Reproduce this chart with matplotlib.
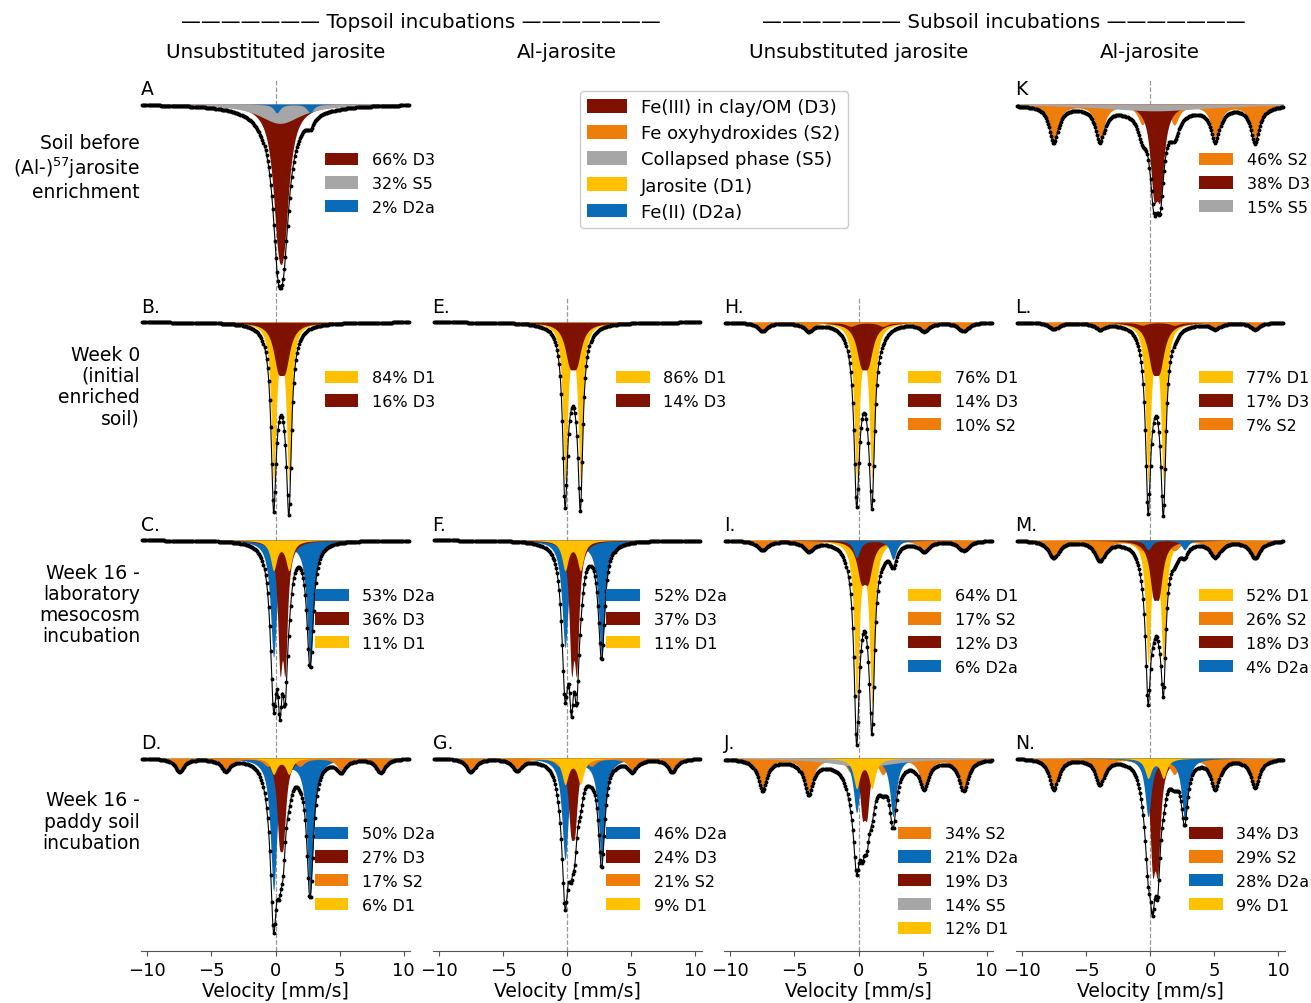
import numpy as np
import matplotlib
matplotlib.use('Agg')
import matplotlib.pyplot as plt
from matplotlib.patches import Patch

# phase colours and legend names
colors = {'D3': '#7f1100', 'S2': '#ee7d0a', 'S5': '#a6a6a6',
          'D1': '#ffc000', 'D2a': '#0a6cb8'}
phase_names = ['Fe(III) in clay/OM (D3)', 'Fe oxyhydroxides (S2)',
               'Collapsed phase (S5)', 'Jarosite (D1)', 'Fe(II) (D2a)']
phase_keys = ['D3', 'S2', 'S5', 'D1', 'D2a']

# line positions [mm/s]
D1_lines = [-0.15, 1.05]
D2a_lines = [-0.15, 2.7]
S2_lines = [-7.5, -3.9, -0.6, 1.9, 5.1, 8.2]

# each panel: (phase, % area, line centres, HWHM, line depths)
spec_A = [('D3', 66, [0.2, 0.65], 0.5, [0.5, 0.5]),
          ('S5', 32, [0.35], 2.0, [0.1]),
          ('D2a', 2, [0.1, 2.7], 0.3, [0.045, 0.045])]
spec_B = [('D1', 84, D1_lines, 0.23, [0.8, 0.8]),
          ('D3', 16, [0.2, 0.75], 0.45, [0.19, 0.19])]
spec_C = [('D2a', 53, D2a_lines, 0.3, [0.6, 0.64]),
          ('D3', 36, [0.35, 0.75], 0.22, [0.57, 0.57]),
          ('D1', 11, D1_lines, 0.3, [0.15, 0.15])]
spec_D = [('D2a', 50, D2a_lines, 0.3, [0.68, 0.7]),
          ('D3', 27, [0.3, 0.6], 0.25, [0.33, 0.33]),
          ('S2', 17, S2_lines, 0.42, [0.07, 0.06, 0.04, 0.04, 0.06, 0.07]),
          ('D1', 6, D1_lines, 0.3, [0.08, 0.08])]
spec_E = [('D1', 86, D1_lines, 0.22, [0.8, 0.8]),
          ('D3', 14, [0.2, 0.75], 0.45, [0.17, 0.17])]
spec_F = [('D2a', 52, D2a_lines, 0.3, [0.55, 0.6]),
          ('D3', 37, [0.35, 0.75], 0.22, [0.57, 0.57]),
          ('D1', 11, D1_lines, 0.3, [0.15, 0.15])]
spec_G = [('D2a', 46, D2a_lines, 0.3, [0.52, 0.54]),
          ('D3', 24, [0.3, 0.6], 0.25, [0.29, 0.29]),
          ('S2', 21, S2_lines, 0.42, [0.07, 0.06, 0.04, 0.04, 0.06, 0.07]),
          ('D1', 9, D1_lines, 0.3, [0.13, 0.13])]
spec_H = [('D1', 76, D1_lines, 0.24, [0.78, 0.78]),
          ('D3', 14, [0.2, 0.75], 0.45, [0.17, 0.17]),
          ('S2', 10, S2_lines, 0.45, [0.045, 0.04, 0.02, 0.02, 0.04, 0.045])]
spec_I = [('D1', 64, D1_lines, 0.23, [0.8, 0.82]),
          ('S2', 17, S2_lines, 0.5, [0.05, 0.05, 0.03, 0.03, 0.05, 0.05]),
          ('D3', 12, [0.2, 0.75], 0.4, [0.17, 0.17]),
          ('D2a', 6, D2a_lines, 0.3, [0.09, 0.1])]
spec_J = [('S2', 34, S2_lines, 0.42, [0.16, 0.17, 0.07, 0.08, 0.14, 0.16]),
          ('D2a', 21, D2a_lines, 0.3, [0.28, 0.3]),
          ('D3', 19, [0.3, 0.65], 0.25, [0.24, 0.24]),
          ('S5', 14, [0.4], 3.0, [0.045]),
          ('D1', 12, D1_lines, 0.3, [0.15, 0.15])]
spec_K = [('S2', 46, S2_lines, 0.42, [0.19, 0.17, 0.1, 0.1, 0.17, 0.19]),
          ('D3', 38, [0.3, 0.8], 0.35, [0.38, 0.38]),
          ('S5', 15, [0.4], 5.0, [0.035])]
spec_L = [('D1', 77, D1_lines, 0.23, [0.8, 0.8]),
          ('D3', 17, [0.2, 0.75], 0.45, [0.19, 0.19]),
          ('S2', 7, S2_lines, 0.45, [0.035, 0.03, 0.015, 0.015, 0.03, 0.035])]
spec_M = [('D1', 52, D1_lines, 0.23, [0.62, 0.62]),
          ('S2', 26, S2_lines, 0.5, [0.09, 0.1, 0.05, 0.05, 0.08, 0.09]),
          ('D3', 18, [0.25, 0.7], 0.35, [0.22, 0.22]),
          ('D2a', 4, D2a_lines, 0.3, [0.05, 0.05])]
spec_N = [('D3', 34, [0.2, 0.6], 0.25, [0.48, 0.48]),
          ('S2', 29, S2_lines, 0.42, [0.16, 0.13, 0.06, 0.08, 0.15, 0.15]),
          ('D2a', 28, D2a_lines, 0.3, [0.3, 0.31]),
          ('D1', 9, D1_lines, 0.3, [0.1, 0.1])]

# panel letter -> (row, col, spectrum)
panels = {'A': (0, 0, spec_A), 'B.': (1, 0, spec_B), 'C.': (2, 0, spec_C),
          'D.': (3, 0, spec_D), 'E.': (1, 1, spec_E), 'F.': (2, 1, spec_F),
          'G.': (3, 1, spec_G), 'H.': (1, 2, spec_H), 'I.': (2, 2, spec_I),
          'J.': (3, 2, spec_J), 'K': (0, 3, spec_K), 'L.': (1, 3, spec_L),
          'M.': (2, 3, spec_M), 'N.': (3, 3, spec_N)}

row_labels = ['Soil before\n(Al-)$^{57}$jarosite\nenrichment',
              'Week 0\n(initial\nenriched\nsoil)',
              'Week 16 -\nlaboratory\nmesocosm\nincubation',
              'Week 16 -\npaddy soil\nincubation']
col_labels = ['Unsubstituted jarosite', 'Al-jarosite',
              'Unsubstituted jarosite', 'Al-jarosite']
group_labels = ['Topsoil incubations', 'Subsoil incubations']


def lorentz(v, c, w, d):
    return d / (1 + ((v - c) / w) ** 2)


def component(v, centres, w, depths):
    y = np.zeros_like(v)
    for c, d in zip(centres, depths):
        y += lorentz(v, c, w, d)
    return y


W, H = 1311, 1004
fig = plt.figure(figsize=(W / 100, H / 100), dpi=100)

col_left = [141, 432.5, 724, 1015.5]
ax_w, ax_h, top0 = 269, 218, 80

v = np.linspace(-10.4, 10.4, 1500)
v_pts = np.linspace(-10.4, 10.4, 256)

for letter, (r, c, spec) in panels.items():
    t = top0 + ax_h * r
    ax = fig.add_axes([col_left[c] / W, 1 - (t + ax_h) / H, ax_w / W, ax_h / H])
    ax.patch.set_visible(False)
    ax.set_xlim(-10.5, 10.5)
    ax.set_ylim(-1.0, 0.13)
    ax.axvline(0, color='#999999', ls='--', lw=0.9, zorder=0.5)

    total = np.zeros_like(v)
    total_pts = np.zeros_like(v_pts)
    for phase, pct, centres, w, depths in spec:
        y = component(v, centres, w, depths)
        total += y
        total_pts += component(v_pts, centres, w, depths)
        ax.fill_between(v, 0, -y, color=colors[phase], lw=0, zorder=1,
                        clip_on=False)
    ax.plot(v, -total, color='k', lw=0.8, zorder=3, clip_on=False)
    ax.plot(v_pts, -total_pts, 'o', color='k', ms=1.8, zorder=4, clip_on=False)

    handles = [Patch(facecolor=colors[p], edgecolor='none') for p, *_ in spec]
    labels = ['%d%% %s' % (pct, p) for p, pct, *_ in spec]
    ax.legend(handles, labels, loc='upper right',
              bbox_to_anchor=(1.093, 0.572 if r == 3 else 0.664),
              frameon=False, fontsize=11.5, handlelength=2.1, handleheight=0.8,
              handletextpad=0.85, labelspacing=0.55, borderpad=0,
              borderaxespad=0)

    ax.text(0.0, 1.0, letter, transform=ax.transAxes, ha='left', va='top',
            fontsize=13.5)

    for s in ['top', 'left', 'right']:
        ax.spines[s].set_visible(False)
    ax.set_yticks([])
    if r == 3:
        ax.set_xticks([-10, -5, 0, 5, 10])
        ax.tick_params(axis='x', labelsize=13, color='#555555')
        ax.spines['bottom'].set_color('#555555')
        ax.set_xlabel('Velocity [mm/s]', fontsize=13.5, labelpad=2)
    else:
        ax.spines['bottom'].set_visible(False)
        ax.set_xticks([])

# row and column titles
for i, lab in enumerate(row_labels):
    yc = [168, 387, 605, 822][i]
    fig.text(140 / W, 1 - yc / H, lab, ha='right', va='center',
             multialignment='right', fontsize=13.5, linespacing=1.15)
for i, lab in enumerate(col_labels):
    fig.text((col_left[i] + ax_w / 2) / W, 1 - 53 / H, lab, ha='center',
             va='center', fontsize=14.3)
dash = '\u2014' * 7
for i, lab in enumerate(group_labels):
    xc = (col_left[2 * i] + col_left[2 * i + 1] + ax_w) / 2
    fig.text(xc / W, 1 - 22 / H, dash + ' ' + lab + ' ' + dash, ha='center',
             va='center', fontsize=14.3)

# shared phase legend
fig.legend([Patch(facecolor=colors[k], edgecolor='none') for k in phase_keys],
           phase_names, loc='upper left', bbox_to_anchor=(580 / W, 1 - 92 / H),
           fontsize=13, handlelength=2.2, handleheight=0.8, labelspacing=0.45,
           handletextpad=0.8, borderpad=0.4, borderaxespad=0, framealpha=1)

fig.savefig('out.png', dpi=100)
